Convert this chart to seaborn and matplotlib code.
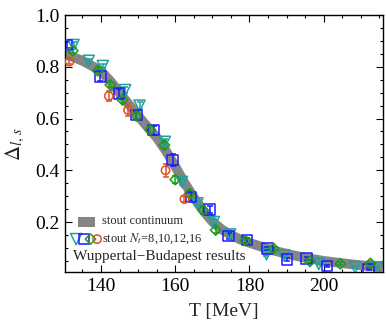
import numpy as np
import pandas as pd
import matplotlib
matplotlib.use("Agg")
import matplotlib.pyplot as plt
from matplotlib.ticker import MultipleLocator
from matplotlib.patches import Rectangle
import seaborn as sns

# Continuum band (centre line)
cont_T = [130, 132, 135, 138, 140, 142.5, 145, 147.5, 150, 152.5, 155, 157.5, 160,
          162.5, 165, 167.5, 170, 172.5, 175, 177.5, 180, 185, 190, 195, 200, 205,
          210, 216]
cont_D = [0.850, 0.840, 0.823, 0.800, 0.783, 0.745, 0.700, 0.655, 0.610, 0.568,
          0.527, 0.475, 0.415, 0.352, 0.295, 0.245, 0.202, 0.172, 0.150, 0.133,
          0.120, 0.096, 0.077, 0.062, 0.050, 0.041, 0.033, 0.026]

# Lattice results, stout action
nt8_T = [132.6, 136.7, 140.5, 146.5, 150.4, 157.2, 161.8, 166.0, 170.4, 174.8,
         184.6, 189.3, 198.7, 208.5, 214.2]
nt8_D = [0.884, 0.823, 0.803, 0.710, 0.650, 0.510, 0.355, 0.272, 0.200, 0.152,
         0.076, 0.072, 0.038, 0.025, 0.025]
nt8_E = [0.010, 0.008, 0.008, 0.012, 0.012, 0.012, 0.010, 0.010, 0.012, 0.010,
         0.006, 0.006, 0.005, 0.004, 0.004]

nt10_T = [130.8, 139.8, 144.8, 149.5, 154.2, 159.3, 164.3, 169.3, 174.4, 179.4,
          184.8, 190.1, 195.4, 200.9, 212.1]
nt10_D = [0.884, 0.762, 0.697, 0.614, 0.555, 0.440, 0.296, 0.249, 0.146, 0.130,
          0.098, 0.055, 0.060, 0.030, 0.019]
nt10_E = [0.012, 0.016, 0.016, 0.015, 0.018, 0.022, 0.016, 0.014, 0.010, 0.010,
          0.006, 0.005, 0.006, 0.005, 0.004]

nt12_T = [132.4, 139.1, 142.5, 145.8, 149.5, 153.3, 157.1, 160.0, 163.9, 167.5,
          170.9, 178.9, 186.5, 196.3, 204.5, 212.6]
nt12_D = [0.862, 0.785, 0.730, 0.672, 0.610, 0.556, 0.497, 0.364, 0.310, 0.246,
          0.169, 0.128, 0.098, 0.048, 0.039, 0.040]
nt12_E = [0.010, 0.010, 0.010, 0.012, 0.012, 0.015, 0.016, 0.012, 0.014, 0.016,
          0.012, 0.008, 0.007, 0.006, 0.006, 0.008]

nt16_T = [131.5, 142.1, 147.3, 157.4, 162.5]
nt16_D = [0.820, 0.687, 0.633, 0.400, 0.289]
nt16_E = [0.010, 0.018, 0.022, 0.025, 0.012]

series = [
    (nt8_T, nt8_D, nt8_E, "#22a0a0", "v", 64),
    (nt10_T, nt10_D, nt10_E, "#1a1aff", "s", 58),
    (nt12_T, nt12_D, nt12_E, "#1e9a1e", "D", 28),
    (nt16_T, nt16_D, nt16_E, "#e2501e", "o", 36),
]

sns.set_style("ticks")
plt.rcParams["font.family"] = ["Liberation Serif", "DejaVu Serif"]
plt.rcParams["mathtext.fontset"] = "stix"

fig = plt.figure(figsize=(3.86, 3.22), dpi=100)
ax = fig.add_axes([65 / 386, 1 - 272 / 322, 318 / 386, 257 / 322])

cont = pd.DataFrame({"T": cont_T, "D": cont_D})
sns.lineplot(data=cont, x="T", y="D", ax=ax, color="#858585", lw=7,
             solid_capstyle="butt", zorder=1)

for T, D, E, col, mk, sz in series:
    ax.errorbar(T, D, yerr=E, fmt="none", ecolor=col, elinewidth=1.1,
                capsize=2.2, capthick=1.1, zorder=2)
    sns.scatterplot(x=T, y=D, ax=ax, marker=mk, s=sz, zorder=3)
    coll = ax.collections[-1]
    coll.set_facecolor("none")
    coll.set_edgecolor(col)
    coll.set_linewidth(1.1)

ax.set_xlim(130.3, 216)
ax.set_ylim(0.007, 1.0)
ax.xaxis.set_major_locator(MultipleLocator(20))
ax.xaxis.set_minor_locator(MultipleLocator(5))
ax.yaxis.set_major_locator(MultipleLocator(0.2))
ax.yaxis.set_minor_locator(MultipleLocator(0.05))
ax.tick_params(which="both", direction="in", top=True, right=True,
               labelsize=14, width=0.8, pad=4, colors="black")
ax.tick_params(which="major", length=5)
ax.tick_params(which="minor", length=2.5)
for s in ax.spines.values():
    s.set_linewidth(1.0)
    s.set_color("black")

ax.set_xlabel("T [MeV]", fontsize=14, labelpad=6)
ax.set_ylabel(r"$\Delta_{l,\,s}$", fontsize=15, labelpad=6)

# Legend block
tr = ax.transAxes
ax.add_patch(Rectangle((0.041, 0.176), 0.053, 0.038, transform=tr,
                       facecolor="#858585", edgecolor="none", zorder=4))
ax.text(0.116, 0.197, "stout continuum", transform=tr, fontsize=9,
        va="center", ha="left")
leg_x = [0.035, 0.060, 0.080, 0.101]
for (T, D, E, col, mk, sz), lx in zip(series, leg_x):
    ax.scatter([lx], [0.128], transform=tr, marker=mk, s=sz,
               facecolors="none", edgecolors=col, linewidths=1.1, zorder=4,
               clip_on=False)
ax.text(0.116, 0.128, r"stout $N_t$=8,10,12,16", transform=tr, fontsize=9,
        va="center", ha="left")
ax.text(0.025, 0.062, "Wuppertal\u2212Budapest results", transform=tr,
        fontsize=11, va="center", ha="left")

fig.savefig("out.png", dpi=100)
